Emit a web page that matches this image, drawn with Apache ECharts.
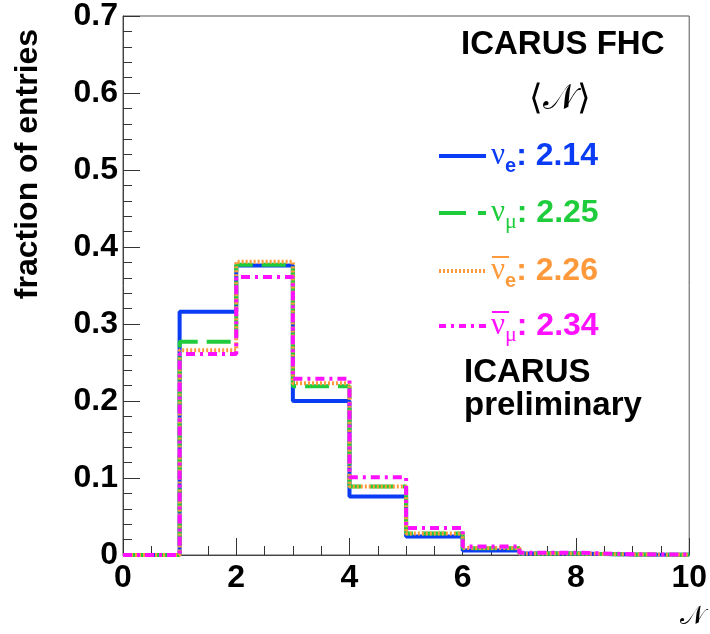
<!DOCTYPE html>
<html><head><meta charset="utf-8">
<script src="https://cdn.jsdelivr.net/npm/echarts@6/dist/echarts.min.js"></script>
<style>html,body{margin:0;padding:0;background:#fff}#c{width:710px;height:634px}</style>
</head><body><div id="c"></div>
<script>
// Bin edges of the multiplicity histogram (N = 0..10)
const binEdges = [0,1,2,3,4,5,6,7,8,9,10];
// Fraction of entries per bin
const nueVals     = [0, 0.316, 0.376, 0.200, 0.076, 0.024, 0.006, 0.002, 0.0007, 0.0003];
const numuVals    = [0, 0.277, 0.377, 0.219, 0.089, 0.028, 0.0087, 0.002, 0.0007, 0.0003];
const nuebarVals  = [0, 0.266, 0.381, 0.223, 0.089, 0.028, 0.009, 0.002, 0.0007, 0.0003];
const numubarVals = [0, 0.261, 0.361, 0.229, 0.101, 0.035, 0.011, 0.003, 0.001, 0.0005];
// Legend labels (means)
const seriesNames = ['nue','numu','nuebar','numubar'];
const isAnti      = [false,false,true,true];
const flavours    = ['e','μ','e','μ'];
const meanVals    = ['2.14','2.25','2.26','2.34'];
const xTicks = [0,2,4,6,8,10];
const yTicks = [0,0.1,0.2,0.3,0.4,0.5,0.6,0.7];

const colors = ['#0a3cf5','#1fcc3c','#ff9a3c','#ff10ff'];
const lineTypes = ['solid',[24,9],[2,2],[9,5,3,5]];
const legendTypes = ['solid',[27,12],[2,2],[7,5,3,5]];
const allVals = [nueVals,numuVals,nuebarVals,numubarVals];

function toSteps(vals){
  const pts = vals.map((v,i)=>[binEdges[i], v]);
  pts.push([binEdges[binEdges.length-1], vals[vals.length-1]]);
  return pts;
}

const SANS = 'Liberation Sans, Arial, Helvetica, sans-serif';
const SERIF = 'Liberation Serif, Times New Roman, serif';

const series = allVals.map((vals,i)=>({
  name: seriesNames[i], type:'line', step:'end', symbol:'none', showSymbol:false, clip:false,
  data: toSteps(vals), z: 2+i,
  lineStyle:{color:colors[i], width:4, type:lineTypes[i]},
  itemStyle:{color:colors[i]}
}));

const legendCenters = [154, 211, 269, 324];
const legends = seriesNames.map((n,i)=>({
  data:[{name:n, textStyle:{color:colors[i]}}],
  orient:'vertical', left:437, top:legendCenters[i]-14, padding:0,
  itemWidth:47, itemHeight:14, selectedMode:false,
  itemStyle:{opacity:0},
  lineStyle:{color:colors[i], width:4, type:legendTypes[i]},
  formatter: ()=> '{nu|ν}{sub|'+flavours[i]+'}{val|: '+meanVals[i]+'}',
  textStyle:{
    color:colors[i],
    rich:{
      nu:{fontFamily:SERIF, fontSize:31, color:colors[i], lineHeight:40, verticalAlign:'middle'},
      sub:{fontFamily:(flavours[i]==='μ'?SERIF:SANS), fontWeight:(flavours[i]==='μ'?'normal':'bold'), fontSize:(flavours[i]==='μ'?22:20), color:colors[i], lineHeight:18, verticalAlign:'bottom'},
      val:{fontFamily:SANS, fontWeight:'bold', fontSize:32, color:colors[i], lineHeight:40, verticalAlign:'middle'}
    }
  }
}));

// overline bars for antineutrino symbols (text decoration)
const overlines = [];
legendCenters.forEach((c,i)=>{
  if(isAnti[i]) overlines.push({type:'line', shape:{x1:492, y1:c-12, x2:509, y2:c-12}, style:{stroke:colors[i], lineWidth:2}, z:10});
});

const chart = echarts.init(document.getElementById('c'), null, {renderer:'canvas'});
chart.setOption({
  backgroundColor:'#fff',
  animation:false,
  grid:{left:123, top:16, right:16, bottom:79, show:true, borderColor:'#555', borderWidth:1, backgroundColor:'transparent'},
  legend: legends,
  xAxis:{
    type:'value', min:0, max:10, interval:2,
    axisLine:{show:true, onZero:false, lineStyle:{color:'#444', width:1}},
    axisTick:{show:true, inside:true, length:17, lineStyle:{color:'#333'}},
    minorTick:{show:true, splitNumber:4, length:9, lineStyle:{color:'#333'}},
    splitLine:{show:false},
    axisLabel:{fontFamily:SANS, fontWeight:'bold', fontSize:32, color:'#000', margin:7,
      formatter:v=> xTicks.indexOf(v)>=0 ? String(v) : ''}
  },
  yAxis:{
    type:'value', min:0, max:0.7, interval:0.1,
    axisLine:{show:true, lineStyle:{color:'#444', width:1}},
    axisTick:{show:true, inside:true, length:17, lineStyle:{color:'#333'}},
    minorTick:{show:true, splitNumber:5, length:9, lineStyle:{color:'#333'}},
    splitLine:{show:false},
    axisLabel:{fontFamily:SANS, fontWeight:'bold', fontSize:32, color:'#000', margin:5,
      formatter:v=>{ const t = yTicks.find(y=>Math.abs(y-v)<1e-9); return t===0?'0':t.toFixed(1);} }
  },
  graphic:[
    {type:'text', left:461, top:28, style:{text:'ICARUS FHC', font:'bold 33px '+SANS, fill:'#000'}},
    {type:'text', x:560, y:100, style:{text:'⟨𝒩⟩', font:'35px '+SERIF, fill:'#000', align:'center', verticalAlign:'middle'}},
    {type:'text', left:464, top:356, style:{text:'ICARUS', font:'bold 33px '+SANS, fill:'#000'}},
    {type:'text', left:464, top:389, style:{text:'preliminary', font:'bold 33px '+SANS, fill:'#000'}},
    {type:'text', x:28, y:164, rotation:Math.PI/2, style:{text:'fraction of entries', font:'bold 32px '+SANS, fill:'#000', align:'center', verticalAlign:'middle'}},
    {type:'text', left:680, top:604, style:{text:'𝒩', font:'26px '+SERIF, fill:'#000'}}
  ].concat(overlines),
  series: series
});
</script></body></html>
